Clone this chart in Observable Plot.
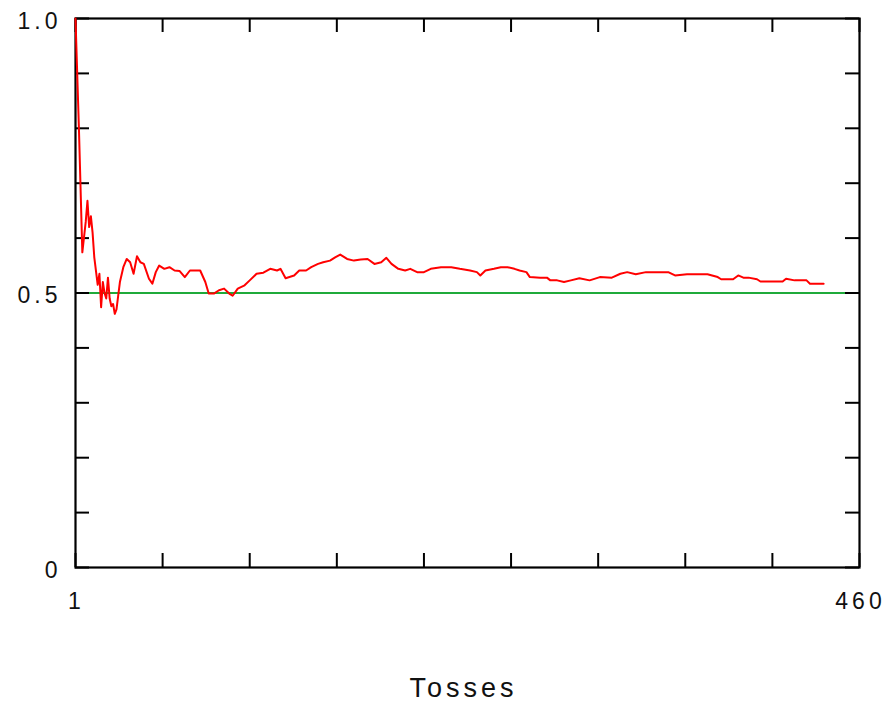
<!DOCTYPE html>
<html><head><meta charset="utf-8">
<script src="https://cdn.jsdelivr.net/npm/d3@7"></script>
<script src="https://cdn.jsdelivr.net/npm/@observablehq/plot@0.6"></script>
<style>
html,body{margin:0;padding:0;background:#fff;}
#chart svg text{letter-spacing:4px;}
#chart svg text.title{letter-spacing:3px;}
</style></head><body><div id="chart"></div>
<script>
const tosses = [1, 3, 5, 7, 8, 9, 10, 11, 12, 14, 15, 16, 17, 18, 19, 20, 21, 22, 23, 24, 25, 26, 27, 29, 31, 33, 35, 37, 39, 41, 44, 46, 48, 50, 53, 56, 59, 62, 65, 68, 71, 74, 77, 79, 82, 85, 88, 91, 93, 96, 100, 103, 107, 111, 115, 119, 121, 124, 129, 132, 136, 139, 143, 146, 150, 153, 156, 160, 164, 168, 172, 176, 180, 183, 186, 190, 194, 197, 201, 205, 209, 215, 221, 226, 232, 236, 238, 241, 246, 250, 254, 258, 261, 265, 267, 273, 277, 279, 283, 287, 291, 296, 302, 308, 315, 320, 324, 329, 335, 342, 348, 352, 359, 366, 371, 377, 379, 386, 389, 392, 395, 400, 402, 410, 415, 417, 422, 429, 431, 439];
const proportion = [1.0, 0.80, 0.574, 0.63, 0.668, 0.62, 0.64, 0.61, 0.565, 0.515, 0.535, 0.474, 0.52, 0.50, 0.49, 0.528, 0.49, 0.476, 0.48, 0.462, 0.47, 0.495, 0.52, 0.547, 0.562, 0.556, 0.535, 0.567, 0.556, 0.553, 0.526, 0.517, 0.538, 0.55, 0.544, 0.547, 0.541, 0.54, 0.529, 0.541, 0.541, 0.541, 0.52, 0.499, 0.499, 0.505, 0.508, 0.499, 0.495, 0.508, 0.514, 0.523, 0.535, 0.537, 0.544, 0.541, 0.544, 0.527, 0.532, 0.541, 0.541, 0.547, 0.553, 0.556, 0.559, 0.565, 0.570, 0.562, 0.559, 0.561, 0.562, 0.553, 0.556, 0.564, 0.553, 0.544, 0.541, 0.544, 0.538, 0.538, 0.544, 0.547, 0.547, 0.544, 0.541, 0.538, 0.532, 0.541, 0.544, 0.547, 0.547, 0.544, 0.541, 0.538, 0.529, 0.528, 0.528, 0.523, 0.523, 0.520, 0.523, 0.527, 0.523, 0.529, 0.528, 0.535, 0.538, 0.534, 0.538, 0.538, 0.538, 0.532, 0.534, 0.534, 0.534, 0.529, 0.525, 0.525, 0.532, 0.528, 0.528, 0.525, 0.521, 0.521, 0.521, 0.526, 0.523, 0.523, 0.517, 0.517];
const xTicks = [1, 52, 103, 154, 205, 256, 307, 358, 409, 460];
const yTicks = [0, 0.1, 0.2, 0.3, 0.4, 0.5, 0.6, 0.7, 0.8, 0.9, 1.0];
const xLabelTicks = [1, 460];
const yLabelTicks = [0, 0.5, 1.0];
const yLabelText = ["0", "0.5", "1.0"];
const fairValue = [0.5];
const xTitle = ["Tosses"];

const data = tosses.map((t, i) => ({t, p: proportion[i]}));
const W = 887, H = 704, mT = 18, mB = 137, mL = 75, mR = 28;
const iw = W - mL - mR, ih = H - mT - mB, tick = 14;

const chart = Plot.plot({
  width: W, height: H,
  marginTop: mT, marginBottom: mB, marginLeft: mL, marginRight: mR,
  x: {domain: [1, 460], label: null},
  y: {domain: [0, 1], label: null},
  style: {fontFamily: "'Liberation Sans', Arial, sans-serif", background: "#fff", color: "#111"},
  marks: [
    Plot.ruleY(fairValue, {stroke: "#1faa3a", strokeWidth: 2}),
    Plot.frame({stroke: "#000", strokeWidth: 2.2}),
    Plot.tickX(xTicks, {x: d => d, insetTop: ih - tick, stroke: "#000", strokeWidth: 2}),
    Plot.tickX(xTicks, {x: d => d, insetBottom: ih - tick, stroke: "#000", strokeWidth: 2}),
    Plot.tickY(yTicks, {y: d => d, insetRight: iw - tick, stroke: "#000", strokeWidth: 2}),
    Plot.tickY(yTicks, {y: d => d, insetLeft: iw - tick, stroke: "#000", strokeWidth: 2}),
    Plot.line(data, {x: "t", y: "p", stroke: "#ff0000", strokeWidth: 2}),
    Plot.axisX(xLabelTicks, {tickSize: 0, tickPadding: 25, fontSize: 23, tickFormat: d => String(d), dx: 1}),
    Plot.axisY(yLabelTicks, {tickSize: 0, tickPadding: 14, fontSize: 23, dy: 3, tickFormat: d => yLabelText[yLabelTicks.indexOf(d)]}),
    Plot.text(xTitle, {text: d => d, frameAnchor: "bottom", dy: 129, dx: -4, fontSize: 27, fill: "#111", className: "title"})
  ]
});
document.getElementById("chart").appendChild(chart);
</script>
</body></html>
